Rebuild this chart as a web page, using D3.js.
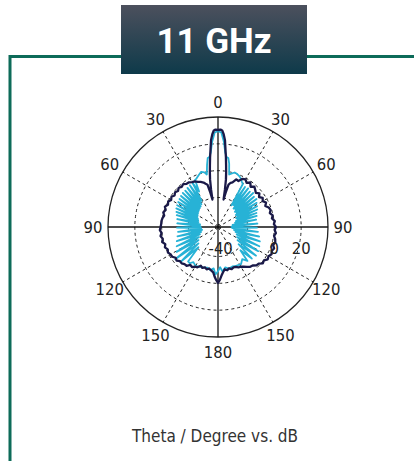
<!DOCTYPE html>
<html><head><meta charset="utf-8">
<script src="https://cdn.jsdelivr.net/npm/d3@7"></script>
<style>html,body{margin:0;padding:0;background:#fff;}svg{display:block;}</style>
</head><body>
<script>
// ---- data ----
const title = "11 GHz";
const caption = "Theta / Degree vs. dB";
const angleLabelsRight = [0, 30, 60, 90, 120, 150, 180];
const angleLabelsLeft = [30, 60, 90, 120, 150];
const spokeAngles = [30, 60, 120, 150, 210, 240, 300, 330];
const ringValues = [-40, -20, 0, 20];
const ringLabels = [-40, 0, 20];
const dbDomain = [-42, 40];

const darkAngles = [0,1.5,2.5,3.5,4.6,5.5,6.5,7.5,8.5,9.5,10.5,11.5,12.5,14,16,18,21,24,27,30,33,36,39,42,45,48,51,54,57,60,63,66,69,72,75,78,81,84,87,90,93,96,99,102,105,108,111,114,117,120,123,126,129,132,135,138,141,144,147,150,153,156,159,162,165,168,171,174,176,178,180,182,184,186,189,192,195,198,201,204,207,210,213,216,219,222,225,228,231,234,237,240,243,246,249,252,255,258,261,264,267,270,273,276,279,282,285,288,291,294,297,300,303,306,309,312,315,318,321,324,327,330,333,336,339,342,344,346,347.5,348.5,349.5,350.5,351.5,352.5,353.5,354.5,355.4,356.5,357.5,358.5];
const darkDb = [30.3,30.6,30.0,27.3,22.9,16.1,10.2,4.2,-1.0,-6.2,-13.7,-21.1,-15.9,-9.5,-7.7,-7.0,-4.0,-4.5,-1.7,-1.0,-2.8,-1.0,-3.4,-1.5,-2.8,-4.0,-2.3,-4.2,-2.3,-3.5,-1.8,-3.4,-1.5,-0.8,-2.0,-0.3,-1.3,0.6,-0.3,1.2,0.3,1.4,0.3,1.6,2.2,1.2,2.8,1.8,2.8,1.5,2.2,0.3,1.0,-1.2,-1.5,-3.4,-3.8,-5.3,-6.8,-7.8,-8.3,-9.5,-9.7,-9.0,-10.1,-9.0,-10.1,-7.7,-5.5,-2.5,-0.3,-2.5,-5.0,-8.0,-9.2,-10.4,-9.3,-10.4,-9.3,-10.4,-8.3,-7.9,-6.4,-7.0,-4.8,-4.7,-3.7,-3.9,-2.3,-3.0,-1.3,-1.2,-0.1,-1.0,0.4,-0.7,1.1,0.1,1.4,0.3,1.4,0.8,0.4,0.4,-0.1,-1.0,0.2,-1.0,0.4,-1.2,-0.3,-1.7,-0.6,-2.0,-0.8,-1.9,-0.6,-1.7,-0.8,-2.2,-2.3,-3.4,-3.8,-5.2,-6.0,-7.2,-8.5,-9.5,-15.9,-21.1,-13.7,-6.2,-1.0,4.2,10.2,16.1,22.9,27.3,30.0,30.6];

const cyanAngles = [0,2,4,5.5,7,8.5,10,12,14,17,20,23,26,28,
  30,32,34,36,38,40,42,44,46,48,50,52,54,56,58,60,62,64,66,68,70,72,74,76,
  79,82,85,88,91,94,97,100,
  103,106,109,112,115,118,121,124,127,130,133,136,139,
  143,148,155,160,165,170,174,177,180,183,186,190,195,200,205,210,215,218,
  221,224,227,230,233,236,239,242,245,248,251,254,257,260,
  263,266,269,272,275,278,281,
  284,286,288,290,292,294,296,298,300,302,304,306,308,310,312,314,316,318,320,322,324,326,328,330,332,334,336,
  340,343,346,348,350,351.5,353,354.5,356,358];
const cyanDb = [29.5,28.5,21.5,14.0,10.5,10.0,6.0,-2.0,-1.0,0.5,0.0,-1.0,-2.5,-4.0,
  -5.0,-23.0,-6.0,-22.0,-5.5,-24.0,-6.5,-23.5,-5.5,-25.0,-7.0,-24.5,-6.5,-26.0,-8.0,-25.5,-9.0,-27.0,-10.0,-26.5,-11.5,-28.0,-12.0,-29.0,
  -13.0,-31.0,-12.5,-32.0,-13.0,-31.5,-12.0,-30.0,
  -10.5,-28.5,-9.0,-27.0,-8.0,-26.0,-7.0,-24.5,-6.5,-22.0,-7.5,-18.0,-8.5,
  -12.0,-9.5,-10.0,-10.7,-9.9,-11.4,-8.5,-12.0,-9.0,-6.5,-11.0,-9.5,-10.7,-10.0,-9.2,-8.5,-10.0,-7.7,
  -8.0,-21.0,-4.0,-23.0,-2.0,-24.5,-6.0,-26.0,-8.0,-27.5,-9.5,-29.0,-11.0,-30.0,
  -12.0,-29.5,-11.5,-29.0,-11.5,-28.5,-11.0,
  -27.0,-10.0,-26.5,-9.0,-26.0,-8.0,-25.0,-7.5,-24.5,-7.0,-24.0,-6.5,-23.5,-6.0,-23.0,-5.5,-22.5,-5.5,-22.0,-5.0,-21.0,-4.5,-19.0,-4.0,-12.0,-3.0,-2.5,
  -0.5,1.0,0.0,-2.0,5.0,10.0,10.5,14.0,21.5,28.5];

// ---- layout ----
const W = 414, H = 461;
const cx = 218, cy = 227, R = 110;
const svg = d3.select("body").append("svg").attr("width", W).attr("height", H);

const defs = svg.append("defs");
const grad = defs.append("linearGradient").attr("id","tg").attr("x1",0).attr("y1",0).attr("x2",0).attr("y2",1);
grad.append("stop").attr("offset","0%").attr("stop-color","#4c505d");
grad.append("stop").attr("offset","100%").attr("stop-color","#0e3a4a");

// frame
const frameColor = "#0d6b59";
svg.append("line").attr("x1",10).attr("x2",121).attr("y1",56.5).attr("y2",56.5).attr("stroke",frameColor).attr("stroke-width",3);
svg.append("line").attr("x1",307).attr("x2",414).attr("y1",56.5).attr("y2",56.5).attr("stroke",frameColor).attr("stroke-width",3);
svg.append("line").attr("x1",10).attr("x2",10).attr("y1",55).attr("y2",461).attr("stroke",frameColor).attr("stroke-width",3);

// title box
svg.append("rect").attr("x",121).attr("y",5).attr("width",186).attr("height",69).attr("fill","url(#tg)");
svg.append("text").attr("x",214).attr("y",53).attr("text-anchor","middle")
  .attr("font-family","Roboto, sans-serif").attr("font-weight","bold").attr("font-size",35)
  .attr("fill","#fff").text(title);

// polar
const r = d3.scaleLinear().domain(dbDomain).range([0, R]);
const g = svg.append("g").attr("transform",`translate(${cx},${cy})`);
const rad = d => d * Math.PI / 180;

ringValues.forEach(v => {
  g.append("circle").attr("r", r(v)).attr("fill","none").attr("stroke","#222")
    .attr("stroke-width",1).attr("stroke-dasharray","3,3");
});
spokeAngles.forEach(a => {
  g.append("line").attr("x1",0).attr("y1",0)
    .attr("x2", R*Math.sin(rad(a))).attr("y2", -R*Math.cos(rad(a)))
    .attr("stroke","#222").attr("stroke-width",1).attr("stroke-dasharray","3,3");
});
g.append("circle").attr("r",R).attr("fill","none").attr("stroke","#222").attr("stroke-width",1.3);
g.append("line").attr("x1",0).attr("x2",0).attr("y1",-R).attr("y2",R).attr("stroke","#111").attr("stroke-width",1.3);
g.append("line").attr("x1",-R).attr("x2",R).attr("y1",0).attr("y2",0).attr("stroke","#111").attr("stroke-width",1.3);

const lblFont = "'DejaVu Sans Condensed', 'DejaVu Sans', sans-serif";
const lblSize = 16.5;
const LR = 125;
angleLabelsRight.forEach(a => {
  g.append("text").attr("x", LR*Math.sin(rad(a))).attr("y", -LR*Math.cos(rad(a)))
    .attr("dy","0.36em").attr("text-anchor","middle").attr("font-family",lblFont)
    .attr("font-stretch","condensed")
    .attr("font-size",lblSize).attr("fill","#222").text(a);
});
angleLabelsLeft.forEach(a => {
  g.append("text").attr("x", -LR*Math.sin(rad(a))).attr("y", -LR*Math.cos(rad(a)))
    .attr("dy","0.36em").attr("text-anchor","middle").attr("font-family",lblFont)
    .attr("font-stretch","condensed")
    .attr("font-size",lblSize).attr("fill","#222").text(a);
});

const line = d3.lineRadial().angle(d => rad(d[0])).radius(d => r(d[1])).curve(d3.curveLinearClosed);
const cyanData = cyanAngles.map((a,i) => [a, cyanDb[i]]);
const darkData = darkAngles.map((a,i) => [a, darkDb[i]]);
g.append("path").attr("d", line(cyanData)).attr("fill","none").attr("stroke","#27b2d6").attr("stroke-width",1.8).attr("stroke-linejoin","round");
g.append("path").attr("d", line(darkData)).attr("fill","none").attr("stroke","#1a1948").attr("stroke-width",2.3).attr("stroke-linejoin","round");

ringLabels.forEach(v => {
  g.append("text").attr("x", r(v)).attr("y", 21).attr("dy","0.36em").attr("text-anchor","middle")
    .attr("font-family",lblFont).attr("font-stretch","condensed")
    .attr("font-size",lblSize).attr("fill","#222").text(v);
});

// caption
svg.append("text").attr("x",215).attr("y",442).attr("text-anchor","middle")
  .attr("font-family",lblFont).attr("font-stretch","condensed")
  .attr("font-size",17).attr("fill","#333").text(caption);
</script>
</body></html>
